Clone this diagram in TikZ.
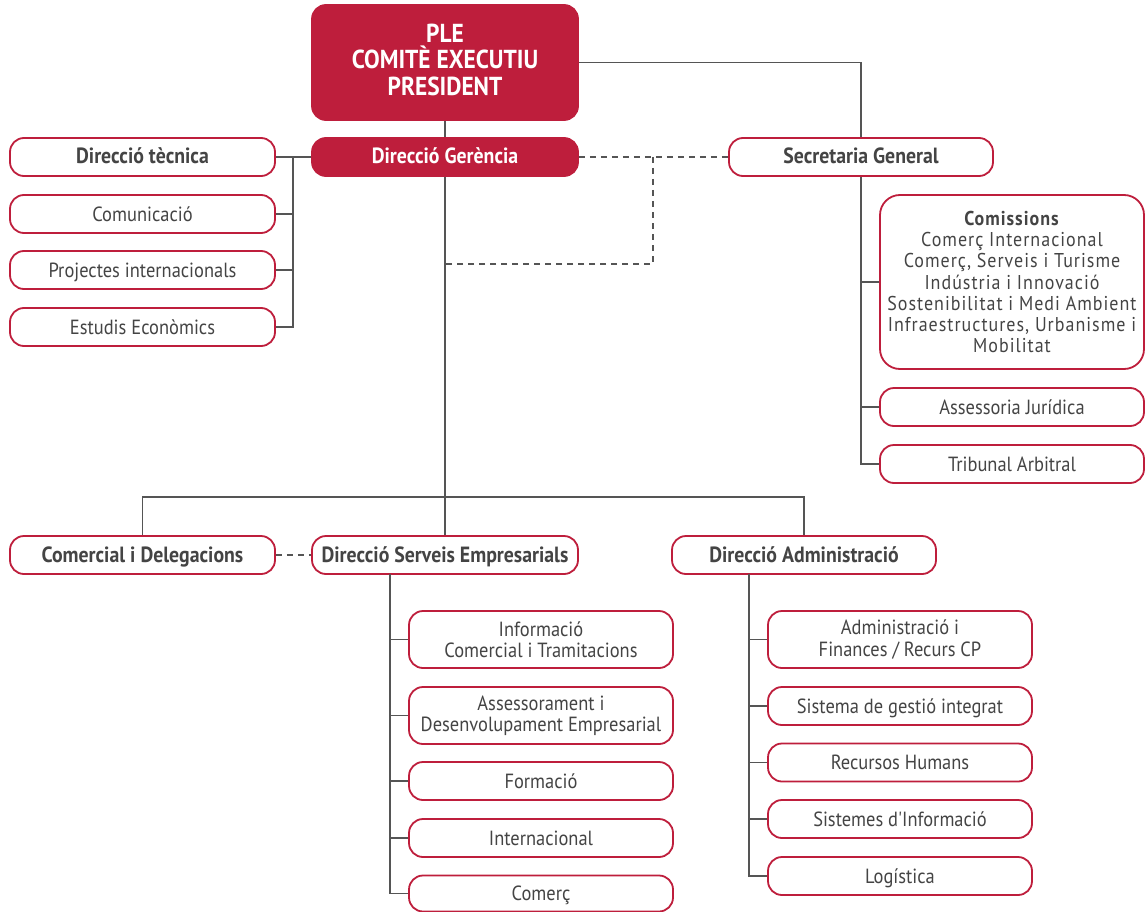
\documentclass[tikz,border=0pt]{standalone}
\usepackage{fontspec}
\setmainfont{PT Sans}[FakeStretch=0.9]
\newfontfamily\widefont{PT Sans}[FakeStretch=0.9, LetterSpace=5]
\newfontfamily\noligfont{PT Sans}[FakeStretch=0.9, Ligatures=TeXOff]
\usetikzlibrary{calc}
\definecolor{crim}{HTML}{BE1E3C}
\definecolor{lgray}{HTML}{555555}
\definecolor{tgray}{HTML}{444444}
\begin{document}
\begin{tikzpicture}[x=1pt,y=-1pt,
  mbox/.style={draw=crim, line width=1.8pt, rounded corners=14pt, fill=white, text=tgray,
    minimum width=264pt, minimum height=38pt, inner sep=0pt, align=center,
    font=\fontsize{20.5}{21.3}\selectfont},
  box/.style={mbox, text height=18pt, text depth=4pt},
  bbox/.style={box, font=\fontsize{22}{21.3}\selectfont\bfseries},
  fbox/.style={bbox, fill=crim, text=white},
  conn/.style={draw=lgray, line width=1.8pt},
  dconn/.style={draw=lgray, line width=1.8pt, dash pattern=on 6pt off 5pt}]
\useasboundingbox (0,0) rectangle (1145,912);
% nodes
\node[mbox, fill=crim, text=white, minimum width=266pt, minimum height=115pt, text depth=6pt,
  font=\fontsize{26}{26.5}\selectfont\bfseries] (ple) at (445,62.5) {PLE\\COMITÈ EXECUTIU\\PRESIDENT};
\node[fbox, minimum width=266pt] (ger) at (445,157) {Direcció Gerència};
\node[bbox] (sec) at (861,157) {Secretaria General};
\node[bbox, minimum width=265pt] (dt) at (142.5,157) {Direcció tècnica};
\node[box, minimum width=265pt] (com) at (142.5,214) {Comunicació};
\node[box, minimum width=265pt] (proj) at (142.5,270) {Projectes internacionals};
\node[box, minimum width=265pt] (est) at (142.5,327) {Estudis Econòmics};
\node[mbox, minimum height=174pt, rounded corners=20pt,
  font=\widefont\fontsize{20}{21.3}\selectfont] (comis) at (1012,282)
  {\textbf{Comissions}\\Comerç Internacional\\Comerç, Serveis i Turisme\\Indústria i Innovació\\Sostenibilitat i Medi Ambient\\Infraestructures, Urbanisme i\\Mobilitat};
\node[box] (ass) at (1012,407) {Assessoria Jurídica};
\node[box] (trib) at (1012,464) {Tribunal Arbitral};
\node[bbox, minimum width=265pt] (cd) at (142.5,555) {Comercial i Delegacions};
\node[bbox, minimum width=266pt] (dse) at (445,555) {Direcció Serveis Empresarials};
\node[bbox] (da) at (804,555) {Direcció Administració};
\node[mbox, minimum height=57pt] (info) at (541,639.5) {Informació\\Comercial i Tramitacions};
\node[mbox, minimum height=57pt] (asse) at (541,715.5) {Assessorament i\\Desenvolupament Empresarial};
\node[box] (form) at (541,781) {Formació};
\node[box] (intl) at (541,838) {Internacional};
\node[box, minimum height=36pt] (comerc) at (541,893.5) {Comerç};
\node[mbox, minimum height=57pt] (adm) at (900,639.5) {Administració i\\Finances / Recurs CP};
\node[box] (sist) at (900,706) {Sistema de gestió integrat};
\node[box] (rh) at (900,762.5) {Recursos Humans};
\node[box, font=\noligfont\fontsize{20.5}{21.3}\selectfont] (si) at (900,819) {Sistemes d'Informació};
\node[box] (log) at (900,876) {Logística};
% coordinates
\coordinate (lb) at (293,157);
\coordinate (dj) at (653,157);
\coordinate (dk) at (445,264);
\coordinate (dsb) at (390,574);
\coordinate (dab) at (749,574);
% connectors
\draw[conn] (ple.south) -- (ger.north);
\draw[conn] (ger.south) -- (dse.north);
\draw[conn] (cd.north) -- ++(0,-38) -| (da.north);
\draw[conn] (ple.east) -| (sec.north);
\draw[conn] (ger.west) -- (dt.east);
\draw[conn] (lb) |- (est.east);
\draw[conn] (com.east) -- (com.east -| lb);
\draw[conn] (proj.east) -- (proj.east -| lb);
\draw[conn] (sec.south) |- (trib.west);
\draw[conn] (comis.west) -- (comis.west -| sec.south);
\draw[conn] (ass.west) -- (ass.west -| sec.south);
\draw[dconn] (ger.east) -- (sec.west);
\draw[dconn] (dj) |- (dk);
\draw[dconn] (cd.east) -- (dse.west);
\draw[conn] (dsb) |- (comerc.west);
\draw[conn] (info.west) -- (info.west -| dsb);
\draw[conn] (asse.west) -- (asse.west -| dsb);
\draw[conn] (form.west) -- (form.west -| dsb);
\draw[conn] (intl.west) -- (intl.west -| dsb);
\draw[conn] (dab) |- (log.west);
\draw[conn] (adm.west) -- (adm.west -| dab);
\draw[conn] (sist.west) -- (sist.west -| dab);
\draw[conn] (rh.west) -- (rh.west -| dab);
\draw[conn] (si.west) -- (si.west -| dab);
\end{tikzpicture}
\end{document}
